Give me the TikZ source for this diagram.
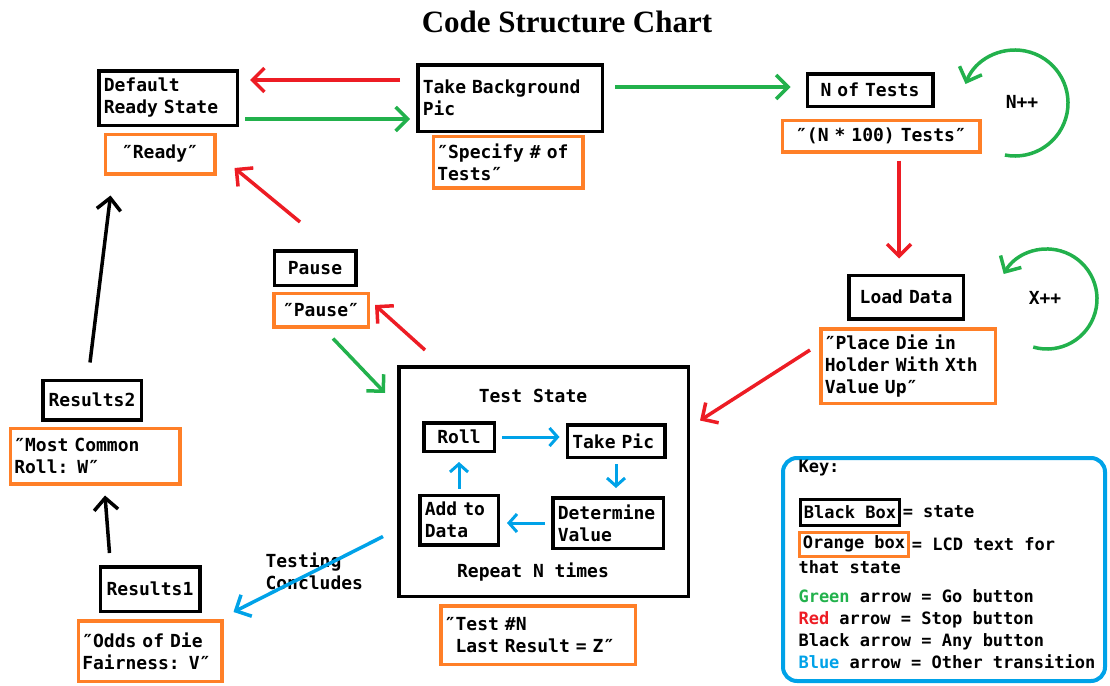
\documentclass[tikz,border=0pt]{standalone}
\usepackage{fontspec}
\usetikzlibrary{arrows.meta}
\newfontfamily\chartfont{DejaVu Sans Mono}
\newfontfamily\titlefont{Liberation Serif}
\definecolor{gocol}{HTML}{22B14C}
\definecolor{stopcol}{HTML}{ED1C24}
\definecolor{othercol}{HTML}{00A2E8}
\definecolor{lcdcol}{HTML}{FF7F27}

\begin{document}
\begin{tikzpicture}[x=1pt,y=-1pt,
  font=\chartfont\bfseries\fontsize{18}{22}\selectfont,
  state/.style={draw,line width=3.5pt,inner xsep=5pt,inner ysep=3pt,align=left},
  lcd/.style={draw=lcdcol,line width=3.5pt,inner xsep=4pt,inner ysep=3pt,align=left},
  arr/.style={line width=3.5pt,-{Straight Barb[length=12pt,width=24pt]}},
  go/.style={arr,gocol},
  stop/.style={arr,stopcol},
  anyb/.style={arr,black},
  other/.style={arr,othercol},
  inner/.style={othercol,line width=3pt,-{Straight Barb[length=8pt,width=18pt]}},
  keyfont/.style={font=\chartfont\bfseries\fontsize{17}{22}\selectfont}]
\useasboundingbox (0,0) rectangle (1110,685);
\node[font=\titlefont\bfseries\fontsize{31}{36}\selectfont] (title) at (567,22) {Code Structure Chart};
% states and their lcd text
\node[state,text width=128.5pt,minimum height=54.5pt] (default) at (168,98) {Default\\Ready State};
\node[lcd,text width=101.5pt,minimum height=39.5pt,align=center] (readylcd) at (160,154) {″Ready″};
\node[state,text width=174.5pt,minimum height=66.5pt] (bgpic) at (510,98) {Take Background\\Pic};
\node[lcd,text width=141.5pt,minimum height=51.5pt] (specify) at (508,162) {″Specify \# of\\Tests″};
\node[state,text width=115.5pt,minimum height=32.5pt,align=center] (ntests) at (870,90) {N of Tests};
\node[lcd,text width=189.5pt,minimum height=31.5pt,align=center] (ntestlcd) at (881,136) {″(N * 100) Tests″};
\node[state,text width=104.5pt,minimum height=43.5pt,align=center] (load) at (906,297) {Load Data};
\node[lcd,text width=166.5pt,minimum height=74.5pt] (placedie) at (908,366) {″Place Die in\\Holder With Xth\\Value Up″};
\node[state,text width=71.5pt,minimum height=34.5pt,align=center] (pause) at (315,268) {Pause};
\node[lcd,text width=86.5pt,minimum height=33.5pt,align=center] (pauselcd) at (321,310) {″Pause″};
\node[state,minimum width=289.5pt,minimum height=229.5pt] (test) at (543.5,481.5) {};
\node (teststate) at (533,396) {Test State};
\node (repeatn) at (533,572) {Repeat N times};
\node[state,text width=60.5pt,minimum height=28.5pt,align=center] (roll) at (459,437) {Roll};
\node[state,text width=87.5pt,minimum height=32.5pt] (takepic) at (616,441) {Take Pic};
\node[state,text width=68.5pt,minimum height=49.5pt] (addto) at (459,520) {Add to\\Data};
\node[state,text width=100.5pt,minimum height=50.5pt] (determine) at (608,523) {Determine\\Value};
\node[lcd,text width=186.5pt,minimum height=58.5pt] (testlcd) at (538,635) {″Test \#N\\\hspace*{10.8pt}Last Result = Z″};
\node[state,text width=88.5pt,minimum height=39.5pt,align=center] (results2) at (92,400) {Results2};
\node[lcd,text width=161.5pt,minimum height=55.5pt] (mostcommon) at (95,456) {″Most Common\\Roll: W″};
\node[state,text width=89.5pt,minimum height=44.5pt,align=center] (results1) at (150,589) {Results1};
\node[lcd,text width=135.5pt,minimum height=60.5pt] (odds) at (150,651) {″Odds of Die\\Fairness: V″};
\node[anchor=west,align=left] (concl) at (262,571) {Testing\\Concludes};
% transitions
\draw[stop] ([shift={(-16,-18)}]bgpic.west) -- ([shift={(11,-18)}]default.east);
\draw[go] ([shift={(6,21)}]default.east) -- ([shift={(-6,21)}]bgpic.west);
\draw[go] ([shift={(11,-11)}]bgpic.east) -- ([shift={(-15,-3)}]ntests.west);
\draw[stop] ([shift={(18,7)}]ntestlcd.south) -- ([shift={(-7,-15)}]load.north);
\draw[stop] ([shift={(-9,-16)}]placedie.west) -- ([shift={(10,-61)}]test.east);
\draw[stop] ([shift={(28,-15)}]test.north west) -- ([shift={(5,-5)}]pauselcd.east);
\draw[go] ([shift={(12,10)}]pauselcd.south) -- ([shift={(-12,28)}]test.north west);
\draw[stop] ([shift={(-15,-27)}]pause.north) -- ([shift={(18,14)}]readylcd.east);
\draw[anyb] ([shift={(-2,-16)}]results2.north) -- ([shift={(7,20)}]readylcd.south west);
\draw[anyb] ([shift={(11,-12)}]results1.north west) -- ([shift={(10,10)}]mostcommon.south);
\draw[other] ([shift={(-14,55)}]test.west) -- ([shift={(10,-7)}]odds.north east);
% self loops
\coordinate (nloop) at (1015,103);
\draw[go] (nloop) ++(101:53) arc[start angle=101,end angle=-159,radius=53];
\node (nplus) at (1022,102) {N++};
\coordinate (xloop) at (1047,299);
\draw[go] (xloop) ++(106:50) arc[start angle=106,end angle=-150,radius=50];
\node (xplus) at (1045,298) {X++};
% inside the test state
\draw[inner,shorten <=6pt,shorten >=6pt] (roll.east) -- (roll.east -| takepic.west);
\draw[inner,shorten <=5pt,shorten >=8pt] (takepic.south) -- (takepic.south |- determine.north);
\draw[inner,shorten <=6pt,shorten >=7pt] (determine.west) -- (determine.west -| addto.east);
\draw[inner,shorten <=5pt,shorten >=9pt] (addto.north) -- (addto.north |- roll.south);
% key
\node[draw=othercol,line width=4pt,rounded corners=14pt,minimum width=322pt,minimum height=223pt] (key) at (944,569.5) {};
\node[keyfont,anchor=west] (keytitle) at (795,468) {Key:};
\node[state,keyfont,line width=3pt,inner xsep=3pt,inner ysep=2pt,minimum height=26pt] (keystate) at (850,512) {Black Box};
\node[keyfont,anchor=west,inner xsep=2pt] (keystatetxt) at (keystate.east) {= state};
\node[lcd,keyfont,line width=3pt,inner xsep=3pt,inner ysep=1pt,minimum height=24pt] (keylcd) at (854,544) {Orange box};
\node[keyfont,anchor=west,inner xsep=2pt] (keylcdtxt) at (keylcd.east) {= LCD text for};
\node[keyfont,anchor=west] (keylcdtxt2) at (795,567) {that state};
\node[keyfont,anchor=west,align=left] (keyarrows) at (795,629) {{\color{gocol}Green} arrow = Go button\\{\color{stopcol}Red} arrow = Stop button\\Black arrow = Any button\\{\color{othercol}Blue} arrow = Other transition};
\end{tikzpicture}
\end{document}
